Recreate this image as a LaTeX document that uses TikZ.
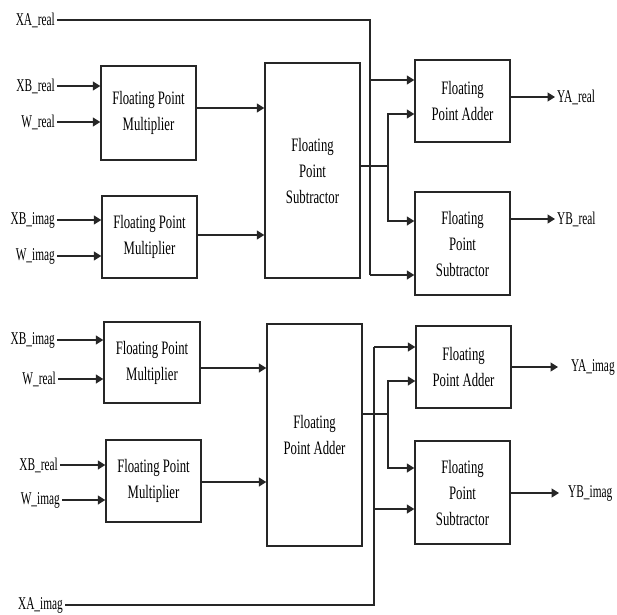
\documentclass[tikz,border=0pt]{standalone}
\usepackage{fontspec}
\setmainfont[FakeStretch=0.67]{Liberation Serif}
\newfontfamily\labfont[FakeStretch=0.63]{Liberation Serif}
\usetikzlibrary{arrows.meta}
\tikzset{
  x=1pt,y=-1pt,
  wire/.style={line width=1.3pt,draw=black!85},
  arr/.style={wire,-{Triangle[length=7.5pt,width=9pt]}},
  blk/.style={draw=black!85,line width=1.4pt,fill=white,inner sep=0pt,align=center,
    font=\fontsize{19}{26}\selectfont},
  lab/.style={inner sep=2pt,font=\labfont\fontsize{18}{19}\selectfont},
}
\begin{document}
\begin{tikzpicture}
\useasboundingbox (0,0) rectangle (617,614);
% blocks
\node[blk,minimum width=95pt,minimum height=94pt] (M1) at (148.5,113) {Floating Point\\Multiplier};
\node[blk,minimum width=95pt,minimum height=82pt] (M2) at (149.5,237) {Floating Point\\Multiplier};
\node[blk,minimum width=96pt,minimum height=81pt] (M3) at (152,362.5) {Floating Point\\Multiplier};
\node[blk,minimum width=95pt,minimum height=82pt] (M4) at (153.5,481) {Floating Point\\Multiplier};
\node[blk,minimum width=95pt,minimum height=215pt] (S1) at (312.5,170.5) {Floating\\Point\\Subtractor};
\node[blk,minimum width=95pt,minimum height=222pt] (A1) at (314.5,435) {Floating\\Point Adder};
\node[blk,minimum width=95pt,minimum height=82pt] (AR1) at (462.5,101) {Floating\\Point Adder};
\node[blk,minimum width=95pt,minimum height=103pt] (SR1) at (462.5,243.5) {Floating\\Point\\Subtractor};
\node[blk,minimum width=95pt,minimum height=82pt] (AR2) at (463.5,367) {Floating\\Point Adder};
\node[blk,minimum width=95pt,minimum height=103pt] (SR2) at (462.5,492.5) {Floating\\Point\\Subtractor};
% input labels
\node[lab,anchor=east] (XAr) at (57,20) {XA\_real};
\node[lab,anchor=east] (XBr1) at (57,86) {XB\_real};
\node[lab,anchor=east] (Wr1) at (57,122) {W\_real};
\node[lab,anchor=east] (XBi1) at (57,220) {XB\_imag};
\node[lab,anchor=east] (Wi1) at (57,256) {W\_imag};
\node[lab,anchor=east] (XBi2) at (57,340) {XB\_imag};
\node[lab,anchor=east] (Wr2) at (58,379) {W\_real};
\node[lab,anchor=east] (XBr2) at (60,465) {XB\_real};
\node[lab,anchor=east] (Wi2) at (62,500) {W\_imag};
\node[lab,anchor=east] (XAi) at (65,605) {XA\_imag};
% output labels
\node[lab,anchor=west] (YAr) at (555,97) {YA\_real};
\node[lab,anchor=west] (YBr) at (555,219) {YB\_real};
\node[lab,anchor=west] (YAi) at (569,367) {YA\_imag};
\node[lab,anchor=west] (YBi) at (566,493) {YB\_imag};
% junction coordinates
\coordinate (ja) at (370,275);
\coordinate (ja1) at (370,80);
\coordinate (jb) at (374,347);
\coordinate (jb1) at (374,509);
\coordinate (s1) at (388,166);
\coordinate (s1a) at (388,114);
\coordinate (s1b) at (388,221);
\coordinate (a1) at (388,414);
\coordinate (a1a) at (388,381);
\coordinate (a1b) at (388,468);
\coordinate (m1o) at (0,108);
\coordinate (m2o) at (0,235);
\coordinate (m3o) at (0,368);
\coordinate (m4o) at (0,482);
\coordinate (yai) at (558,367);
\coordinate (ybi) at (559,493);
% inputs to multipliers
\foreach \l/\b in {XBr1/M1,Wr1/M1,XBi1/M2,Wi1/M2,XBi2/M3,Wr2/M3,XBr2/M4,Wi2/M4}
  \draw[arr] (\l.east) -- (\l.east -| \b.west);
% multiplier outputs
\draw[arr] (M1.east |- m1o) -- (S1.west |- m1o);
\draw[arr] (M2.east |- m2o) -- (S1.west |- m2o);
\draw[arr] (M3.east |- m3o) -- (A1.west |- m3o);
\draw[arr] (M4.east |- m4o) -- (A1.west |- m4o);
% XA_real
\draw[wire] (XAr.east) -| (ja);
\draw[arr] (ja) -- (ja -| SR1.west);
\draw[arr] (ja1) -- (ja1 -| AR1.west);
% XA_imag
\draw[wire] (XAi.east) -| (jb);
\draw[arr] (jb) -- (jb -| AR2.west);
\draw[arr] (jb1) -- (jb1 -| SR2.west);
% subtractor output
\draw[wire] (S1.east |- s1) -- (s1);
\draw[arr] (s1) -- (s1a) -- (s1a -| AR1.west);
\draw[arr] (s1) -- (s1b) -- (s1b -| SR1.west);
% adder output
\draw[wire] (A1.east |- a1) -- (a1);
\draw[arr] (a1) -- (a1a) -- (a1a -| AR2.west);
\draw[arr] (a1) -- (a1b) -- (a1b -| SR2.west);
% outputs
\draw[arr] (AR1.east |- YAr.west) -- (YAr.west);
\draw[arr] (SR1.east |- YBr.west) -- (YBr.west);
\draw[arr] (AR2.east |- yai) -- (yai);
\draw[arr] (SR2.east |- ybi) -- (ybi);
\end{tikzpicture}
\end{document}
